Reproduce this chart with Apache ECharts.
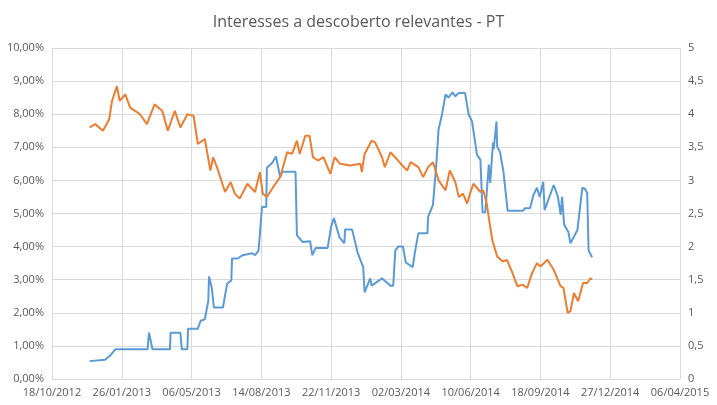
<!DOCTYPE html>
<html><head><meta charset="utf-8">
<script src="https://cdn.jsdelivr.net/npm/echarts@6/dist/echarts.min.js"></script>
<style>html,body{margin:0;padding:0;background:#fff}#c{width:717px;height:405px}</style>
</head><body><div id="c"></div>
<script>
const baseDate = '2012-10-18';
const orangeDays = [54,62,73,82,86,93,97,105,112,126,136,147,158,166,176,184,194,203,209,219,227,231,238,248,256,262,269,280,291,298,302,308,317,327,337,344,351,355,363,369,374,381,389,399,405,413,427,442,444,448,458,463,473,477,485,496,502,509,514,525,532,539,546,554,564,570,578,583,589,595,599,604,614,618,623,628,631,638,646,652,660,667,674,681,688,695,700,710,719,729,733,739,743,748,754,761,767,772,774];
const orangeVals = [7.6,7.7,7.5,7.85,8.4,8.85,8.4,8.6,8.2,8.0,7.7,8.3,8.1,7.5,8.1,7.6,8.0,7.95,7.1,7.25,6.3,6.7,6.3,5.65,5.95,5.6,5.45,5.9,5.65,6.25,5.6,5.5,5.8,6.1,6.85,6.8,7.2,6.8,7.35,7.35,6.7,6.6,6.7,6.2,6.7,6.5,6.45,6.5,6.25,6.8,7.2,7.15,6.7,6.4,6.85,6.6,6.45,6.3,6.55,6.4,6.1,6.4,6.55,6.0,5.7,6.3,5.95,5.5,5.6,5.3,5.6,5.9,5.65,5.7,5.3,4.6,4.2,3.7,3.55,3.6,3.2,2.8,2.85,2.75,3.2,3.5,3.4,3.6,3.3,2.8,2.75,2.0,2.05,2.6,2.35,2.9,2.9,3.05,3.0,2.8];
const blueDays = [54,76,83,91,137,139,144,169,170,184,186,194,195,209,213,219,224,225,229,232,245,251,257,258,266,273,287,291,296,301,307,308,316,321,327,330,349,351,359,370,373,378,395,400,404,412,419,420,427,430,438,446,448,456,458,473,485,489,492,496,503,507,517,520,525,538,539,546,551,554,559,564,568,574,578,583,592,597,602,609,614,617,621,626,628,632,633,637,638,642,647,653,675,678,685,690,695,699,704,706,719,725,729,731,734,740,743,753,760,764,767,769,774];
const blueVals = [0.27,0.29,0.35,0.45,0.45,0.7,0.45,0.45,0.7,0.7,0.45,0.45,0.76,0.76,0.88,0.9,1.18,1.55,1.38,1.08,1.08,1.44,1.49,1.82,1.82,1.87,1.9,1.87,1.94,2.6,2.6,3.19,3.27,3.36,3.05,3.13,3.13,2.17,2.07,2.08,1.87,1.98,1.98,2.3,2.43,2.14,2.05,2.26,2.26,2.26,1.91,1.69,1.31,1.52,1.41,1.52,1.41,1.41,1.94,2.0,2.0,1.76,1.69,1.91,2.2,2.2,2.45,2.63,3.28,3.77,4.0,4.3,4.25,4.33,4.27,4.32,4.32,4.0,3.89,3.39,3.31,2.52,2.52,3.24,2.96,3.57,3.47,3.89,3.51,3.43,3.13,2.54,2.54,2.58,2.58,2.78,2.89,2.75,2.98,2.55,2.93,2.75,2.48,2.75,2.33,2.22,2.05,2.25,2.89,2.87,2.81,1.94,1.84];
const titleText = 'Interesses a descoberto relevantes - PT';

const base = Date.UTC(2012, 9, 18);
function fmtDate(v){
  const d = new Date(base + v*86400000);
  const p = n => String(n).padStart(2,'0');
  return p(d.getUTCDate())+'/'+p(d.getUTCMonth()+1)+'/'+d.getUTCFullYear();
}
const txt = '#595959', grid = '#d9d9d9';
const chart = echarts.init(document.getElementById('c'));
chart.setOption({
  animation:false,
  title:{text:titleText,left:'center',top:9,textStyle:{fontFamily:'Open Sans',fontSize:16,fontWeight:'normal',color:txt}},
  grid:{left:52,right:37,top:48,bottom:26},
  xAxis:{type:'value',min:0,max:900,interval:100,
    axisLabel:{formatter:fmtDate,color:txt,fontSize:11,fontFamily:'Open Sans'},
    axisLine:{lineStyle:{color:grid}},axisTick:{show:false},
    splitLine:{show:true,lineStyle:{color:grid}}},
  yAxis:[
    {type:'value',min:0,max:10,interval:1,
     axisLabel:{formatter:v=>v.toFixed(2).replace('.',',')+'%',color:txt,fontSize:11,fontFamily:'Open Sans'},
     axisLine:{show:false},axisTick:{show:false},splitLine:{lineStyle:{color:grid}}},
    {type:'value',min:0,max:5,interval:0.5,
     axisLabel:{formatter:v=>String(v).replace('.',','),color:txt,fontSize:11,fontFamily:'Open Sans'},
     axisLine:{show:false},axisTick:{show:false},splitLine:{show:false}}
  ],
  series:[
    {type:'line',yAxisIndex:1,showSymbol:false,lineStyle:{color:'#5B9BD5',width:2},itemStyle:{color:'#5B9BD5'},
     data:blueDays.map((d,i)=>[d,blueVals[i]])},
    {type:'line',yAxisIndex:0,showSymbol:false,lineStyle:{color:'#ED7D31',width:2},itemStyle:{color:'#ED7D31'},
     data:orangeDays.map((d,i)=>[d,orangeVals[i]])}
  ]
});
</script></body></html>
